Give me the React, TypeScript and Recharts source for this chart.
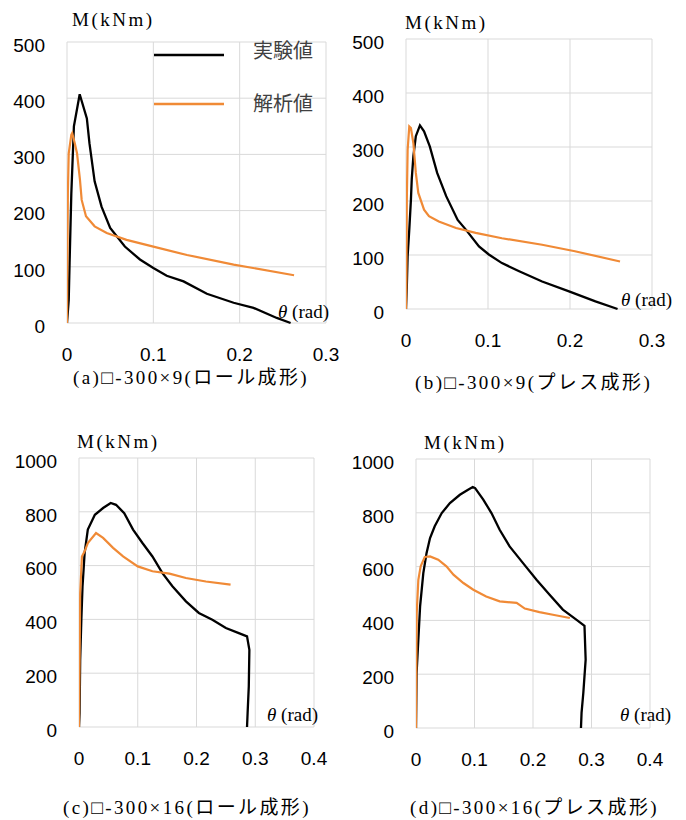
import { LineChart, Line, XAxis, YAxis, CartesianGrid } from "recharts";

// (a) □-300×9 ロール成形
const aExpTheta = [0, 0.002, 0.003, 0.005, 0.008, 0.0147, 0.023, 0.026, 0.032, 0.04, 0.05, 0.067, 0.0845, 0.1, 0.1155, 0.135, 0.162, 0.193, 0.216, 0.243, 0.259];
const aExpM = [0, 41, 107, 230, 350, 407, 364, 320, 252, 207, 169, 136, 113, 98, 84, 74, 52, 36, 27, 9, 0];
const aAnaTheta = [0, 0.0005, 0.001, 0.002, 0.005, 0.006, 0.009, 0.0116, 0.015, 0.017, 0.022, 0.032, 0.046, 0.069, 0.1, 0.139, 0.193, 0.263];
const aAnaM = [0, 120, 231, 302, 335, 338, 320, 302, 255, 219, 190, 172, 160, 148, 136, 121, 104, 85];

// (b) □-300×9 プレス成形
const bExpTheta = [0, 0.001, 0.002, 0.004, 0.006, 0.007, 0.009, 0.012, 0.017, 0.022, 0.029, 0.038, 0.049, 0.063, 0.073, 0.089, 0.101, 0.117, 0.138, 0.166, 0.198, 0.231, 0.258];
const bExpM = [0, 42, 98, 147, 202, 240, 283, 320, 340, 329, 301, 252, 209, 165, 147, 116, 101, 85, 70, 51, 33, 14, 0];
const bAnaTheta = [0, 0.0005, 0.001, 0.002, 0.004, 0.006, 0.009, 0.012, 0.015, 0.022, 0.028, 0.04, 0.061, 0.085, 0.117, 0.166, 0.206, 0.261];
const bAnaM = [0, 54, 202, 295, 338, 335, 307, 252, 215, 184, 172, 162, 150, 141, 131, 119, 107, 88];

// (c) □-300×16 ロール成形
const cExpTheta = [0, 0.001, 0.002, 0.004, 0.006, 0.0096, 0.015, 0.027, 0.041, 0.054, 0.063, 0.077, 0.092, 0.108, 0.125, 0.142, 0.159, 0.182, 0.204, 0.227, 0.25, 0.272, 0.286, 0.29, 0.289, 0.287, 0.286];
const cExpM = [0, 52, 250, 399, 523, 647, 734, 789, 814, 833, 826, 795, 734, 684, 634, 572, 523, 467, 424, 399, 368, 349, 337, 287, 151, 52, 0];
const cAnaTheta = [0, 0.001, 0.002, 0.005, 0.0096, 0.015, 0.029, 0.041, 0.058, 0.075, 0.1, 0.125, 0.154, 0.182, 0.216, 0.258];
const cAnaM = [0, 250, 498, 634, 653, 684, 721, 703, 666, 634, 597, 579, 570, 554, 541, 529];

// (d) □-300×16 プレス成形
const dExpTheta = [0, 0.001, 0.004, 0.007, 0.0125, 0.018, 0.024, 0.032, 0.044, 0.058, 0.075, 0.089, 0.097, 0.101, 0.115, 0.129, 0.143, 0.16, 0.183, 0.206, 0.228, 0.251, 0.274, 0.288, 0.29, 0.286, 0.283, 0.282];
const dExpM = [0, 204, 328, 452, 576, 650, 706, 750, 799, 836, 867, 886, 896, 892, 849, 799, 737, 675, 613, 551, 496, 440, 403, 380, 254, 130, 56, 0];
const dAnaTheta = [0, 0.0005, 0.0012, 0.004, 0.008, 0.015, 0.024, 0.038, 0.052, 0.064, 0.081, 0.098, 0.12, 0.143, 0.172, 0.186, 0.211, 0.234, 0.263];
const dAnaM = [0, 204, 427, 551, 601, 636, 638, 626, 601, 570, 539, 514, 489, 471, 465, 444, 431, 421, 409];

const xTicks3 = [0, 0.1, 0.2, 0.3];
const xTicks4 = [0, 0.1, 0.2, 0.3, 0.4];
const yTicks500 = [0, 100, 200, 300, 400, 500];
const yTicks1000 = [0, 200, 400, 600, 800, 1000];

const seriesNames = ["実験値", "解析値"];
const captions = [
  "(a)□-300×9(ロール成形)",
  "(b)□-300×9(プレス成形)",
  "(c)□-300×16(ロール成形)",
  "(d)□-300×16(プレス成形)",
];

const EXP_COLOR = "#000000";
const ANA_COLOR = "#F08A36";
const GRID = "#D9D9D9";
const serif = '"Liberation Serif", "DejaVu Serif", "Noto Sans CJK JP", serif';
const tickFont = { fontFamily: '"Liberation Sans", Arial, sans-serif', fontSize: 19, fill: "#000" };

const toPoints = (theta: number[], m: number[]) => theta.map((t, i) => ({ theta: t, m: m[i] }));

// legend drawn over panel (a), same place as the original
function LegendBox() {
  const rows = [
    { name: seriesNames[0], color: EXP_COLOR, lineY: 55, textY: 50 },
    { name: seriesNames[1], color: ANA_COLOR, lineY: 104, textY: 103 },
  ];
  return (
    <>
      {rows.map((r) => (
        <div key={r.name}>
          <svg width={72} height={6} style={{ position: "absolute", left: 154, top: r.lineY - 3 }}>
            <line x1={0} y1={3} x2={70} y2={3} stroke={r.color} strokeWidth={2.5} />
          </svg>
          <span
            style={{
              position: "absolute",
              left: 253,
              top: r.textY - 12,
              fontFamily: '"Noto Sans CJK JP", sans-serif',
              fontSize: 20,
              lineHeight: "24px",
              color: "#404040",
              whiteSpace: "nowrap",
            }}
          >
            {r.name}
          </span>
        </div>
      ))}
    </>
  );
}

interface PanelProps {
  left: number;
  top: number;
  plot: { l: number; t: number; r: number; b: number };
  exp: { theta: number; m: number }[];
  ana: { theta: number; m: number }[];
  xTicks: number[];
  yTicks: number[];
  caption: string;
  mLabel: [number, number];
  thLabel: [number, number];
  capPos: [number, number];
  legend?: boolean;
}

function Panel({ left, top, plot, exp, ana, xTicks, yTicks, caption, mLabel, thLabel, capPos, legend }: PanelProps) {
  const W = 343;
  const H = 400;
  const xAxisH = 40;
  return (
    <div style={{ position: "absolute", left, top, width: W, height: H }}>
      <LineChart
        width={W}
        height={H}
        margin={{ top: plot.t, right: W - plot.r, bottom: H - plot.b - xAxisH, left: 0 }}
      >
        <CartesianGrid stroke={GRID} strokeWidth={1} />
        <XAxis
          type="number"
          dataKey="theta"
          domain={[0, xTicks[xTicks.length - 1]]}
          ticks={xTicks}
          allowDataOverflow
          height={xAxisH}
          axisLine={false}
          tickLine={false}
          tickSize={0}
          tickMargin={25}
          tick={tickFont}
          interval={0}
        />
        <YAxis
          type="number"
          dataKey="m"
          domain={[0, yTicks[yTicks.length - 1]]}
          ticks={yTicks}
          width={plot.l}
          axisLine={false}
          tickLine={false}
          tickSize={0}
          tickMargin={22}
          tick={{ ...tickFont, dy: 3 }}
          interval={0}
        />
        <Line
          data={exp}
          dataKey="m"
          name={seriesNames[0]}
          type="linear"
          stroke={EXP_COLOR}
          strokeWidth={2.3}
          dot={false}
          activeDot={false}
          isAnimationActive={false}
        />
        <Line
          data={ana}
          dataKey="m"
          name={seriesNames[1]}
          type="linear"
          stroke={ANA_COLOR}
          strokeWidth={2.2}
          dot={false}
          activeDot={false}
          isAnimationActive={false}
        />
      </LineChart>
      {legend && <LegendBox />}
      <div
        style={{
          position: "absolute",
          left: mLabel[0],
          top: mLabel[1] - 12,
          lineHeight: "24px",
          fontFamily: serif,
          fontSize: 19,
          letterSpacing: 2.5,
          whiteSpace: "nowrap",
        }}
      >
        M(kNm)
      </div>
      <div
        style={{
          position: "absolute",
          left: thLabel[0],
          top: thLabel[1] - 12,
          lineHeight: "24px",
          fontFamily: serif,
          fontSize: 19,
          whiteSpace: "nowrap",
        }}
      >
        <i>θ</i> (rad)
      </div>
      <div
        style={{
          position: "absolute",
          left: capPos[0],
          top: capPos[1] - 12,
          lineHeight: "24px",
          fontFamily: serif,
          fontSize: 19,
          letterSpacing: 2.4,
          whiteSpace: "nowrap",
        }}
      >
        {caption}
      </div>
    </div>
  );
}

export default function App() {
  return (
    <div style={{ position: "absolute", left: 0, top: 0, width: 686, height: 820, background: "#fff" }}>
      <Panel
        left={0}
        top={0}
        plot={{ l: 67, t: 42, r: 326, b: 323 }}
        exp={toPoints(aExpTheta, aExpM)}
        ana={toPoints(aAnaTheta, aAnaM)}
        xTicks={xTicks3}
        yTicks={yTicks500}
        caption={captions[0]}
        mLabel={[72, 20]}
        thLabel={[278, 312]}
        capPos={[73, 378]}
        legend
      />
      <Panel
        left={343}
        top={0}
        plot={{ l: 63, t: 39, r: 309, b: 309 }}
        exp={toPoints(bExpTheta, bExpM)}
        ana={toPoints(bAnaTheta, bAnaM)}
        xTicks={xTicks3}
        yTicks={yTicks500}
        caption={captions[1]}
        mLabel={[62, 23]}
        thLabel={[278, 300]}
        capPos={[72, 383]}
      />
      <Panel
        left={0}
        top={420}
        plot={{ l: 79, t: 38, r: 314, b: 307 }}
        exp={toPoints(cExpTheta, cExpM)}
        ana={toPoints(cAnaTheta, cAnaM)}
        xTicks={xTicks4}
        yTicks={yTicks1000}
        caption={captions[2]}
        mLabel={[77, 22]}
        thLabel={[267, 295]}
        capPos={[63, 388]}
      />
      <Panel
        left={343}
        top={420}
        plot={{ l: 73, t: 39, r: 307, b: 308 }}
        exp={toPoints(dExpTheta, dExpM)}
        ana={toPoints(dAnaTheta, dAnaM)}
        xTicks={xTicks4}
        yTicks={yTicks1000}
        caption={captions[3]}
        mLabel={[81, 23]}
        thLabel={[277, 295]}
        capPos={[67, 388]}
      />
    </div>
  );
}
